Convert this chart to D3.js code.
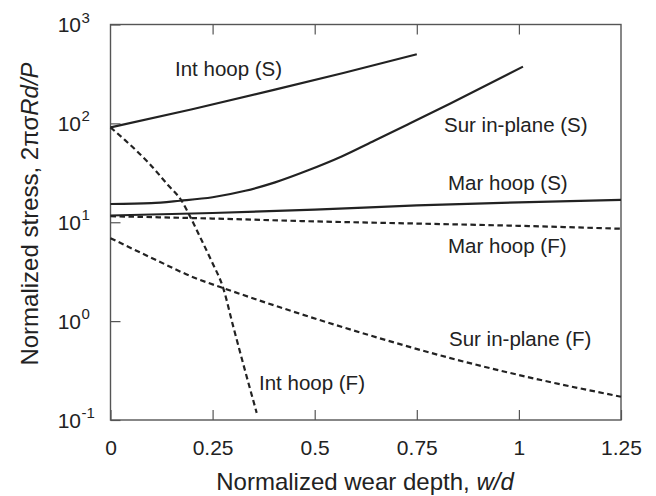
<!DOCTYPE html>
<html>
<head>
<meta charset="utf-8">
<script src="https://cdn.jsdelivr.net/npm/d3@7"></script>
<style>
  html, body { margin: 0; padding: 0; background: #fff; }
  svg { display: block; font-family: "Liberation Sans", Arial, Helvetica, sans-serif; }
</style>
</head>
<body>
<svg id="chart" width="656" height="496"></svg>
<script>
// ---- data ----
const xTicks = [0, 0.25, 0.5, 0.75, 1, 1.25];
const xTickLabels = ["0", "0.25", "0.5", "0.75", "1", "1.25"];
const yTicks = [0.1, 1, 10, 100, 1000];
const yTickExponents = ["-1", "0", "1", "2", "3"];

const intHoopS_w = [0, 0.2, 0.4, 0.57, 0.75];
const intHoopS_v = [91, 139, 218, 323, 500];

const surS_w = [0, 0.1, 0.17, 0.25, 0.33, 0.403, 0.484, 0.566, 0.647, 0.729, 0.831, 1.01];
const surS_v = [15.3, 15.6, 16.5, 17.9, 20.8, 25.3, 33.5, 46.2, 67, 98, 158, 375];

const marS_w = [0, 0.25, 0.5, 0.75, 1.0, 1.25];
const marS_v = [11.7, 12.4, 13.4, 14.8, 15.9, 16.8];

const marF_w = [0, 0.25, 0.5, 0.75, 1.0, 1.25];
const marF_v = [11.5, 10.9, 10.2, 9.7, 9.2, 8.6];

const surF_w = [0, 0.109, 0.207, 0.276, 0.415, 0.615, 0.83, 1.03, 1.25];
const surF_v = [6.9, 4.2, 2.73, 2.16, 1.38, 0.76, 0.425, 0.267, 0.172];

const intF_w = [0, 0.035, 0.093, 0.14, 0.174, 0.195, 0.22, 0.248, 0.276, 0.3, 0.33, 0.358];
const intF_v = [91, 68, 40, 24, 16.5, 11.4, 7, 4, 2.16, 0.9, 0.31, 0.118];

const seriesNames = ["Int hoop (S)", "Sur in-plane (S)", "Mar hoop (S)", "Mar hoop (F)", "Sur in-plane (F)", "Int hoop (F)"];

// ---- layout ----
const svg = d3.select("#chart");
const L = 110.5, R = 621, T = 24.5, B = 420;
const x = d3.scaleLinear().domain([0, 1.25]).range([L, R]);
const y = d3.scaleLog().domain([0.1, 1000]).range([B, T]);

const frameColor = "#555";
const lineColor = "#222";
const textColor = "#222";

// bottom axis (inward ticks)
const gx = svg.append("g").attr("transform", `translate(0,${B})`)
  .call(d3.axisBottom(x).tickValues(xTicks).tickSize(-10).tickPadding(20)
    .tickFormat((d, i) => xTickLabels[i]));
gx.select(".domain").remove();
gx.selectAll("line").attr("stroke", frameColor).attr("stroke-width", 1.2);
gx.selectAll("text").attr("font-size", 21).attr("fill", textColor)
  .attr("font-family", "'Liberation Sans', Arial, sans-serif");

// top axis ticks
const gxt = svg.append("g").attr("transform", `translate(0,${T})`)
  .call(d3.axisTop(x).tickValues(xTicks.slice(1, -1)).tickSize(-10).tickFormat(""));
gxt.select(".domain").remove();
gxt.selectAll("line").attr("stroke", frameColor).attr("stroke-width", 1.2);

// left axis ticks
const gy = svg.append("g").attr("transform", `translate(${L},0)`)
  .call(d3.axisLeft(y).tickValues(yTicks).tickSize(-10).tickFormat(""));
gy.select(".domain").remove();
gy.selectAll("line").attr("stroke", frameColor).attr("stroke-width", 1.2);
gy.selectAll("text").remove();

// left axis labels 10^n
const yLab = svg.append("g").attr("font-family", "'Liberation Sans', Arial, sans-serif").attr("fill", textColor);
yTicks.forEach((t, i) => {
  yLab.append("text").attr("x", 81).attr("y", y(t) + 7.5)
    .style("text-anchor", "end").attr("font-size", 21).text("10");
  yLab.append("text").attr("x", 81.5).attr("y", y(t) - 2)
    .style("text-anchor", "start").attr("font-size", 15).text(yTickExponents[i]);
});

// frame
svg.append("rect").attr("x", L).attr("y", T).attr("width", R - L).attr("height", B - T)
  .attr("fill", "none").attr("stroke", frameColor).attr("stroke-width", 1.4);

// lines
const line = d3.line().x(d => x(d[0])).y(d => y(d[1])).curve(d3.curveMonotoneX);
function draw(ws, vs, dashed) {
  svg.append("path").datum(ws.map((w, i) => [w, vs[i]]))
    .attr("d", line).attr("fill", "none").attr("stroke", lineColor)
    .attr("stroke-width", 2.2)
    .attr("stroke-dasharray", dashed ? "5.5,3.5" : null);
}
draw(intHoopS_w, intHoopS_v, false);
draw(surS_w, surS_v, false);
draw(marS_w, marS_v, false);
draw(marF_w, marF_v, true);
draw(surF_w, surF_v, true);
draw(intF_w, intF_v, true);

// curve labels
const labelPos = [[175, 76], [444, 132], [448, 190], [448, 253], [449, 346], [259, 390]];
seriesNames.forEach((n, i) => {
  svg.append("text").attr("x", labelPos[i][0]).attr("y", labelPos[i][1])
    .attr("font-size", 20.5).attr("fill", textColor).text(n);
});

// axis titles
const xt = svg.append("text").attr("x", 365).attr("y", 490).style("text-anchor", "middle")
  .attr("font-size", 24).attr("fill", textColor);
xt.append("tspan").text("Normalized wear depth, ");
xt.append("tspan").attr("font-style", "italic").text("w/d");

const yt = svg.append("text").attr("transform", "translate(38,214) rotate(-90)")
  .style("text-anchor", "middle").attr("font-size", 24).attr("fill", textColor);
yt.append("tspan").text("Normalized stress, 2πσ");
yt.append("tspan").attr("font-style", "italic").text("Rd/P");
</script>
</body>
</html>
